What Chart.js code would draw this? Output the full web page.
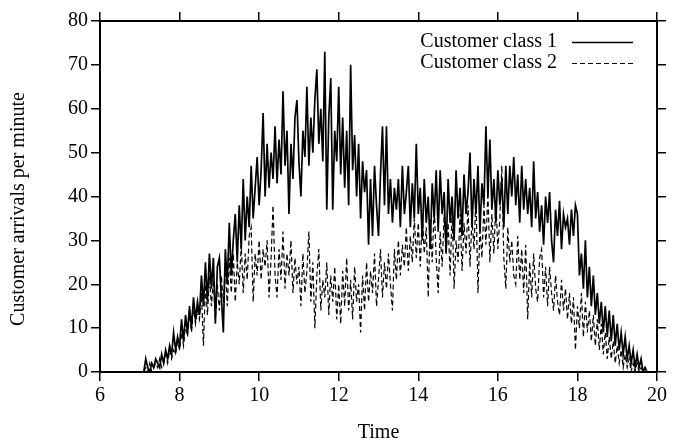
<!DOCTYPE html>
<html>
<head>
<meta charset="utf-8">
<script src="https://cdn.jsdelivr.net/npm/chart.js@4.4.1/dist/chart.umd.min.js"></script>
<style>
  html, body { margin: 0; padding: 0; background: #fff; }
  #wrap { position: relative; width: 673px; height: 446px; }
</style>
</head>
<body>
<div id="wrap"><canvas id="arrivals" width="673" height="446"></canvas></div>
<script>
// ── Data: customer arrivals per minute, one reading every 3 minutes ─────────
const SERIES_NAMES = ['Customer class 1', 'Customer class 2'];
const T0 = 7.1;    // first reading (hours)
const DT = 0.05;   // 3 minutes

const class1 = [
  0,3,1,0,2,1,3,2,1,4,2,5,3,6,4,9,5,8,                          // 7.1 - 7.95
  6,12,7,13,9,15,10,17,12,16,13,22,15,25,16,27,19,26,11,24,     // 8
  26,17,9,28,20,34,22,30,36,25,38,28,44,30,40,33,47,35,42,49,   // 9
  38,46,59,40,52,42,50,44,56,43,53,45,64,47,55,36,52,44,58,62,  // 10
  48,40,55,49,65,47,58,50,62,69,52,60,48,73,37,58,67,37,55,48,  // 11
  65,45,58,42,55,38,70,46,54,40,52,35,48,41,46,29,44,31,47,38,  // 12
  31,45,56,38,56,36,44,34,42,37,44,33,47,36,41,47,33,43,35,52,  // 13
  36,42,30,44,34,40,28,43,35,46,32,46,36,41,27,44,34,40,30,46,  // 14
  35,42,31,45,36,41,50,33,44,36,47,32,43,38,56,40,53,37,44,34,  // 15
  46,38,44,33,47,36,47,40,49,38,45,34,47,37,44,36,42,33,48,35,  // 16
  41,32,38,29,40,34,41,30,25,37,31,39,28,36,33,35,29,37,31,38,  // 17
  36,22,27,19,30,17,24,15,22,13,18,11,16,9,15,8,14,7,13,6,      // 18
  11,5,9,4,8,3,6,2,5,1,4,1,3,0,1,0                              // 19 - 19.75
];

const class2 = [
  0,1,0,2,0,1,2,1,3,1,2,4,2,5,3,5,4,7,                          // 7.1 - 7.95
  5,9,6,11,8,13,9,15,11,14,12,18,6,20,13,22,15,21,12,20,        // 8
  14,22,16,24,15,26,18,27,16,25,20,29,18,27,21,31,33,16,27,22,  // 9
  30,21,28,24,30,17,26,38,22,17,28,21,32,19,27,22,30,18,26,20,  // 10
  24,15,27,18,23,32,16,25,10,22,28,14,21,17,25,13,22,16,24,12,  // 11
  20,11,23,15,26,14,21,12,24,16,20,9,22,14,25,16,23,18,27,15,   // 12
  21,28,17,25,19,27,20,14,28,21,30,22,29,24,33,23,31,25,35,26,  // 13
  34,24,36,27,33,17,35,25,38,26,18,32,24,36,27,34,22,37,19,30,  // 14
  25,36,23,34,27,38,24,35,28,40,18,33,26,38,29,41,25,36,27,39,  // 15
  28,35,47,26,19,33,25,30,22,20,31,21,28,18,29,12,25,17,27,19,  // 16
  16,26,28,17,24,15,24,18,14,22,16,13,21,14,19,12,18,11,17,5,   // 17
  15,10,18,8,16,9,14,7,13,6,12,5,11,4,9,3,8,3,7,2,              // 18
  6,2,5,1,4,1,3,0,2,0,2,0,1,0,1,0                               // 19 - 19.75
];

// axis ticks
const X_TICKS = { min: 6, max: 20, step: 2 };
const Y_TICKS = { min: 0, max: 80, step: 10 };

const times = class1.map((_, i) => +(T0 + i * DT).toFixed(2));
const toPoints = vals => vals.map((v, i) => ({ x: times[i], y: v }));

// ── gnuplot-ish look ────────────────────────────────────────────────────────
const FONT = '"Liberation Serif", "Times New Roman", serif';
const FONT_SIZE = 20;
const DASH = [5, 3];

// box axes: ticks pointing outward on all four sides
function boxAxis(pos, range, showLabels, size) {
  return {
    type: 'linear',
    position: pos,
    min: range.min,
    max: range.max,
    afterFit: s => { if (s.isHorizontal()) s.height = size; else s.width = size; },
    grid: { drawOnChartArea: false, drawTicks: true, tickLength: 9, color: '#000', lineWidth: 1.5 },
    border: { display: true, color: '#000', width: 2 },
    ticks: {
      display: showLabels,
      stepSize: range.step,
      color: '#000',
      padding: 3,
      font: { family: FONT, size: FONT_SIZE },
    },
  };
}

// legend drawn gnuplot style: text right-justified, sample to its right
const gpLegend = {
  id: 'gpLegend',
  afterDraw(chart) {
    const { ctx, chartArea } = chart;
    ctx.save();
    ctx.font = `${FONT_SIZE}px ${FONT}`;
    ctx.fillStyle = '#000';
    ctx.strokeStyle = '#000';
    ctx.textAlign = 'right';
    ctx.textBaseline = 'middle';
    chart.data.datasets.forEach((ds, i) => {
      const y = chartArea.top + 21 + i * 21;
      ctx.fillText(ds.label, chartArea.right - 100, y);
      ctx.lineWidth = ds.borderWidth;
      ctx.setLineDash(ds.borderDash || []);
      ctx.beginPath();
      ctx.moveTo(chartArea.right - 85, y + 0.5);
      ctx.lineTo(chartArea.right - 24, y + 0.5);
      ctx.stroke();
    });
    ctx.restore();
  },
};

const xBottom = boxAxis('bottom', X_TICKS, true, 74);
xBottom.title = { display: true, text: 'Time', color: '#000', font: { family: FONT, size: FONT_SIZE }, padding: { top: 0, bottom: 1 } };
const yLeft = boxAxis('left', Y_TICKS, true, 100);
// trailing no-break spaces nudge the label a little below the axis centre, as in the original
yLeft.title = { display: true, text: 'Customer arrivals per minute\u00a0\u00a0\u00a0\u00a0\u00a0', color: '#000', font: { family: FONT, size: FONT_SIZE }, padding: { top: 7, bottom: 0 } };

new Chart(document.getElementById('arrivals'), {
  type: 'line',
  data: {
    datasets: [
      {
        label: SERIES_NAMES[0],
        data: toPoints(class1),
        borderColor: '#000',
        borderWidth: 1.7,
        pointRadius: 0,
        tension: 0,
        order: 1,
      },
      {
        label: SERIES_NAMES[1],
        data: toPoints(class2),
        borderColor: '#000',
        borderWidth: 1.2,
        borderDash: DASH,
        pointRadius: 0,
        tension: 0,
        order: 0,
      },
    ],
  },
  options: {
    responsive: false,
    animation: false,
    devicePixelRatio: 1,
    layout: { padding: { top: 21, right: 16, left: 0, bottom: 0 } },
    plugins: { legend: { display: false }, tooltip: { enabled: false } },
    scales: {
      x: xBottom,
      x2: boxAxis('top', X_TICKS, false, 0),
      y: yLeft,
      y2: boxAxis('right', Y_TICKS, false, 0),
    },
  },
  plugins: [gpLegend],
});
</script>
</body>
</html>
